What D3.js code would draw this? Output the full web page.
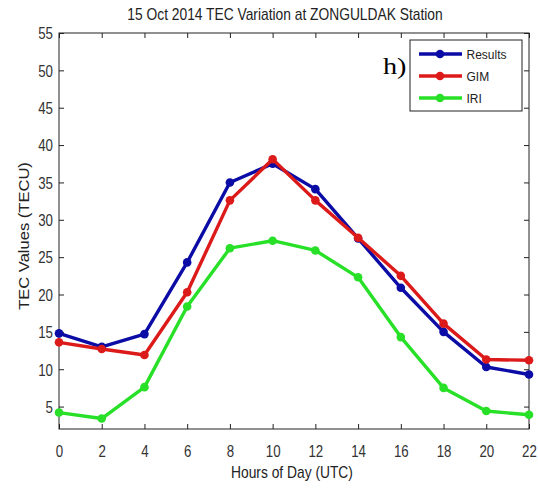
<!DOCTYPE html>
<html>
<head>
<meta charset="utf-8">
<script src="https://cdn.jsdelivr.net/npm/d3@7"></script>
<style>
  html, body { margin: 0; padding: 0; background: #fff; }
</style>
</head>
<body>
<svg id="chart" width="538" height="489"></svg>
<script>
const hours = [0, 2, 4, 6, 8, 10, 12, 14, 16, 18, 20, 22];
const results = [14.8, 13.0, 14.7, 24.3, 35.0, 37.5, 34.1, 27.5, 20.9, 15.0, 10.3, 9.3];
const gim     = [13.6, 12.7, 11.9, 20.3, 32.6, 38.1, 32.6, 27.6, 22.5, 16.1, 11.3, 11.2];
const iri     = [4.2, 3.4, 7.6, 18.4, 26.2, 27.2, 25.9, 22.3, 14.3, 7.5, 4.4, 3.9];
const xTicks = [0, 2, 4, 6, 8, 10, 12, 14, 16, 18, 20, 22];
const yTicks = [5, 10, 15, 20, 25, 30, 35, 40, 45, 50, 55];
const seriesNames = ["Results", "GIM", "IRI"];
const seriesColors = ["#0b0ba6", "#dc1a1a", "#27e027"];

const SANS = "'Liberation Sans', Arial, sans-serif";
const svg = d3.select("#chart");
const pL = 59, pR = 529, pT = 33, pB = 429;

const x = d3.scaleLinear().domain([0, 22]).range([pL, pR]);
const y = d3.scaleLinear().domain([2, 55]).range([pB, pT]);

// Box
svg.append("rect").attr("x", pL).attr("y", pT)
  .attr("width", pR - pL).attr("height", pB - pT)
  .attr("fill", "none").attr("stroke", "#222").attr("stroke-width", 1);

// Axes (ticks inward)
const gxb = svg.append("g").attr("transform", `translate(0,${pB})`)
  .call(d3.axisBottom(x).tickValues(xTicks).tickSize(-5));
const gxt = svg.append("g").attr("transform", `translate(0,${pT})`)
  .call(d3.axisTop(x).tickValues(xTicks).tickSize(-5).tickFormat(""));
const gyl = svg.append("g").attr("transform", `translate(${pL},0)`)
  .call(d3.axisLeft(y).tickValues(yTicks).tickSize(-5));
const gyr = svg.append("g").attr("transform", `translate(${pR},0)`)
  .call(d3.axisRight(y).tickValues(yTicks).tickSize(-5).tickFormat(""));
[gxb, gxt, gyl, gyr].forEach(g => {
  g.select(".domain").remove();
  g.selectAll("line").attr("stroke", "#222");
});
// Tick labels: vertically stretched look
gxb.selectAll("text")
  .attr("y", null).attr("dy", null)
  .attr("transform", "translate(0,27.5) scale(1,1.23)")
  .attr("font-size", 13.3).attr("fill", "#333").attr("font-family", SANS);
gyl.selectAll("text")
  .attr("x", null).attr("dy", null)
  .attr("text-anchor", "end")
  .attr("transform", "translate(-6,5.8) scale(1,1.23)")
  .attr("font-size", 13.3).attr("fill", "#333").attr("font-family", SANS);

// Title and labels
svg.append("text").attr("transform", "translate(285,20) scale(1,1.2)")
  .attr("text-anchor", "middle").attr("font-size", 13.8).attr("fill", "#222")
  .attr("font-family", SANS).text("15 Oct 2014 TEC Variation at ZONGULDAK Station");
svg.append("text").attr("transform", "translate(292,478) scale(1,1.2)")
  .attr("text-anchor", "middle").attr("font-size", 13.8).attr("fill", "#222")
  .attr("font-family", SANS).text("Hours of Day (UTC)");
svg.append("text").attr("transform", "translate(28.5,236) rotate(-90) scale(1.2,1.05)")
  .attr("text-anchor", "middle").attr("font-size", 13.8).attr("fill", "#222")
  .attr("font-family", SANS).text("TEC Values (TECU)");

// Series
const all = [results, gim, iri];
const line = d3.line().x((d, i) => x(hours[i])).y(d => y(d));
all.forEach((vals, k) => {
  svg.append("path").datum(vals).attr("d", line)
    .attr("fill", "none").attr("stroke", seriesColors[k]).attr("stroke-width", 3.4)
    .attr("stroke-linejoin", "round");
  svg.append("g").selectAll("circle").data(vals).join("circle")
    .attr("cx", (d, i) => x(hours[i])).attr("cy", d => y(d)).attr("r", 4.3)
    .attr("fill", seriesColors[k]);
});

// Legend
const lg = svg.append("g");
lg.append("rect").attr("x", 410).attr("y", 40).attr("width", 112).attr("height", 71)
  .attr("fill", "#fff").attr("stroke", "#222").attr("stroke-width", 1);
const legendYs = [54, 76, 98];
seriesNames.forEach((name, k) => {
  const ly = legendYs[k];
  lg.append("line").attr("x1", 419).attr("x2", 462).attr("y1", ly).attr("y2", ly)
    .attr("stroke", seriesColors[k]).attr("stroke-width", 3.4);
  lg.append("circle").attr("cx", 440).attr("cy", ly).attr("r", 4.3).attr("fill", seriesColors[k]);
  lg.append("text").attr("transform", `translate(466.5,${ly + 4.5}) scale(1,1.1)`)
    .attr("font-size", 12).attr("fill", "#222").attr("font-family", SANS).text(name);
});

svg.append("text").attr("transform", "translate(383,73.5) scale(1.2,1)")
  .attr("font-size", 23.5).attr("font-weight", "normal").attr("fill", "#000")
  .attr("font-family", "'Liberation Serif', 'Times New Roman', serif").text("h)");
</script>
</body>
</html>
